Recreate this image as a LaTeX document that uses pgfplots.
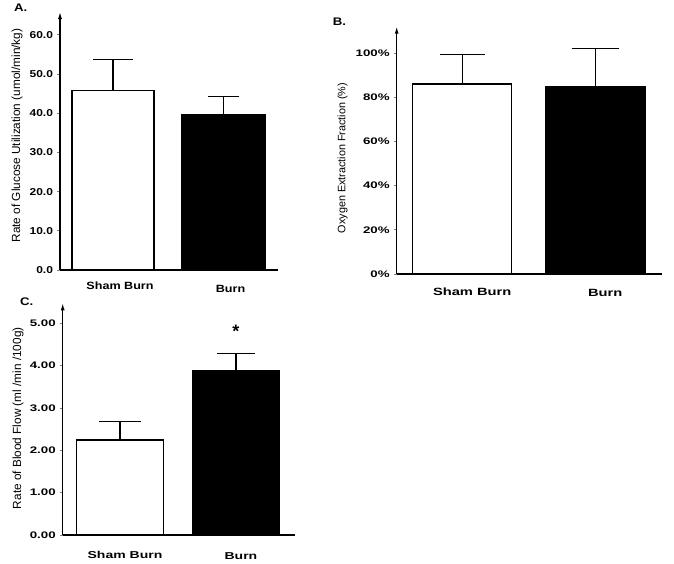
\documentclass[border=0pt]{standalone}
\usepackage{fontspec}
\setmainfont{Liberation Sans}
\newfontfamily\fA[FakeStretch=1.2]{Liberation Sans}
\newfontfamily\fB[FakeStretch=1.4]{Liberation Sans}
\usepackage{pgfplots}
\pgfplotsset{compat=1.18}
\usetikzlibrary{arrows.meta}

\pgfplotsset{
  panel/.style={
    scale only axis, anchor=south west,
    axis x line=bottom, axis y line=left,
    x axis line style={-}, y axis line style={-{Latex[length=7pt,width=4pt]}},
    axis line style={line width=1.1pt},
    ymin=0, xtick={1,2},
    xtick style={draw=none}, ytick style={line width=0.8pt},
    major tick length=2.5pt, tick align=outside,
    clip=false,
    ylabel style={anchor=center},
  },
  bar/.style={ybar, bar shift=0pt, draw=black, line width=1.3pt,
    error bars/y dir=plus, error bars/y explicit, error bars/error mark=|,
    error bars/error bar style={line width=1.3pt, black}},
}

\begin{document}
\begin{tikzpicture}
\path[use as bounding box] (0,0) rectangle (674pt,563pt);

% A
\begin{axis}[panel, at={(60pt,293pt)}, width=218pt, height=258pt,
    xmin=0.5204, xmax=2.493, ymax=65.8,
    ytick={0,10,...,60}, yticklabels={0.0,10.0,20.0,30.0,40.0,50.0,60.0},
    xticklabels={Sham Burn,\raisebox{-3.5pt}[\height]{Burn}},
    yticklabel style={font=\fA\bfseries\fontsize{10}{12}\selectfont, xshift=-1pt},
    xticklabel style={font=\fA\bfseries\fontsize{10.5}{12}\selectfont, yshift=-5.5pt, xshift=7pt},
    ylabel={Rate of Glucose Utilization (umol/min/kg)},
    ylabel style={at={(axis description cs:-0.197,0.521)}, font=\fontsize{11.8}{14}\selectfont},
  ]
  \addplot[bar, bar width=82pt, fill=white, error bars/error mark options={mark size=20pt, line width=1.3pt}]
    coordinates {(1,45.7) +- (0,7.9)};
  \addplot[bar, bar width=83pt, fill=black, error bars/error mark options={mark size=15.5pt, line width=1.3pt}]
    coordinates {(2,39.5) +- (0,4.7)};
\end{axis}

% B
\begin{axis}[panel, at={(396.7pt,289pt)}, width=265pt, height=247.3pt,
    xmin=0.5075, xmax=2.5, ymax=112,
    ytick={0,20,...,100}, yticklabels={0\%,20\%,40\%,60\%,80\%,100\%},
    xticklabels={Sham Burn,\raisebox{-2pt}[\height]{Burn}},
    yticklabel style={font=\fB\bfseries\fontsize{9.5}{12}\selectfont, xshift=-1pt},
    xticklabel style={font=\fB\bfseries\fontsize{10.5}{12}\selectfont, yshift=-7.5pt, xshift=10pt},
    ylabel={Oxygen Extraction Fraction (\%)},
    ylabel style={at={(axis description cs:-0.2045,0.469)}, font=\fontsize{10.8}{13}\selectfont},
  ]
  \addplot[bar, bar width=99pt, fill=white, error bars/error mark options={mark size=22.5pt, line width=1.3pt}]
    coordinates {(1,86.1) +- (0,13.4)};
  \addplot[bar, bar width=100pt, fill=black, error bars/error mark options={mark size=23.5pt, line width=1.3pt}]
    coordinates {(2,84.7) +- (0,17.4)};
\end{axis}

% C
\begin{axis}[panel, at={(62.7pt,28pt)}, width=232.3pt, height=231.7pt,
    xmin=0.506, xmax=2.509, ymax=5.47,
    ytick={0,1,...,5}, yticklabels={0.00,1.00,2.00,3.00,4.00,5.00},
    xticklabels={Sham Burn,\raisebox{-1.5pt}[\height]{Burn}},
    yticklabel style={font=\fB\bfseries\fontsize{9.5}{12}\selectfont, xshift=-1pt},
    xticklabel style={font=\fB\bfseries\fontsize{10}{12}\selectfont, yshift=-10.5pt, xshift=5pt},
    ylabel={Rate of Blood Flow (ml /min /100g)},
    ylabel style={at={(axis description cs:-0.192,0.504)}, font=\fontsize{11.8}{14}\selectfont},
  ]
  \addplot[bar, bar width=86.6pt, fill=white, error bars/error mark options={mark size=21pt, line width=1.3pt}]
    coordinates {(1,2.24) +- (0,0.44)};
  \addplot[bar, bar width=86.6pt, fill=black, error bars/error mark options={mark size=19pt, line width=1.3pt}]
    coordinates {(2,3.87) +- (0,0.42)};
  \node[font=\bfseries\fontsize{18}{18}\selectfont] at (axis cs:2,4.81) {*};
\end{axis}

\node[anchor=west, font=\fA\bfseries\fontsize{11}{12}\selectfont, inner sep=0pt] at (14pt,555.5pt) {A.};
\node[anchor=west, font=\fA\bfseries\fontsize{11}{12}\selectfont, inner sep=0pt] at (332.7pt,541.3pt) {B.};
\node[anchor=west, font=\fA\bfseries\fontsize{11}{12}\selectfont, inner sep=0pt] at (20pt,261.3pt) {C.};
\end{tikzpicture}
\end{document}
